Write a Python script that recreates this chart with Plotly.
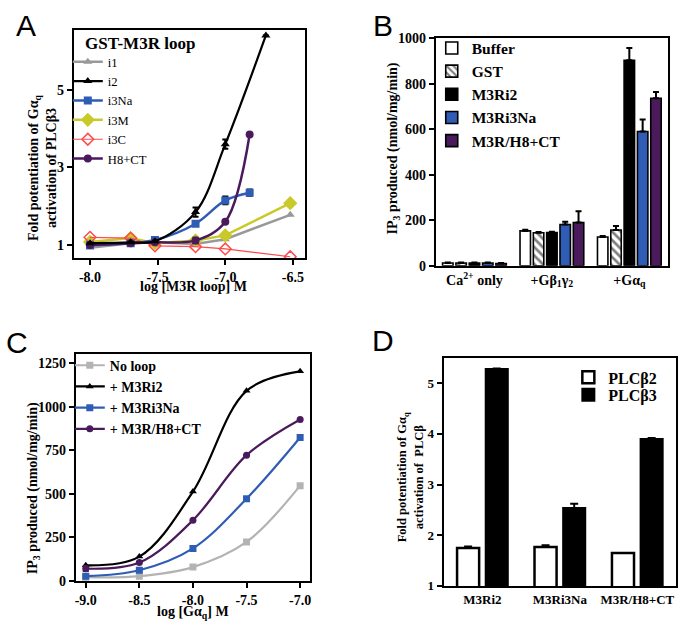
import plotly.graph_objects as go

W, H = 688, 631
SERIF = "Liberation Serif, Times New Roman, serif"
SANS = "Liberation Sans, Arial, sans-serif"

# ---------------- Panel A data ----------------
A_i1_x = [-8.0, -7.7, -7.52, -7.22, -7.0, -6.52]
A_i1_y = [0.93, 1.05, 1.07, 1.03, 1.15, 1.78]
A_i2_x = [-8.0, -7.7, -7.52, -7.22, -7.0, -6.7]
A_i2_y = [1.05, 1.07, 1.10, 1.85, 3.60, 6.40]
A_i2_err = [0, 0, 0, 0.12, 0.12, 0]
A_i3Na_x = [-8.0, -7.7, -7.52, -7.22, -7.0, -6.82]
A_i3Na_y = [1.00, 1.05, 1.13, 1.55, 2.15, 2.35]
A_i3Na_err = [0, 0, 0, 0.05, 0.10, 0.08]
A_i3M_x = [-8.0, -7.7, -7.52, -7.22, -7.0, -6.52]
A_i3M_y = [1.08, 1.18, 1.05, 1.12, 1.25, 2.08]
A_i3C_x = [-8.0, -7.7, -7.52, -7.22, -7.0, -6.52]
A_i3C_y = [1.20, 1.18, 0.98, 0.96, 0.90, 0.70]
A_H8_x = [-8.0, -7.7, -7.52, -7.22, -7.0, -6.82]
A_H8_y = [1.00, 1.05, 1.07, 1.12, 1.60, 3.85]
A_H8_err = [0, 0, 0, 0.07, 0, 0]
A_xticks = [-8.0, -7.5, -7.0, -6.5]
A_xticklabels = ["-8.0", "-7.5", "-7.0", "-6.5"]
A_yticks = [1, 3, 5]

# ---------------- Panel B data ----------------
B_categories = ["Ca<sup>2+</sup> only", "+Gβ<sub>1</sub>γ<sub>2</sub>", "+Gα<sub>q</sub>"]
B_buffer = [12, 153, 126]
B_buffer_err = [2, 5, 5]
B_gst = [12, 145, 157]
B_gst_err = [2, 3, 18]
B_m3ri2 = [12, 146, 903]
B_m3ri2_err = [2, 3, 54]
B_m3ri3na = [12, 181, 590]
B_m3ri3na_err = [2, 12, 53]
B_h8 = [10, 190, 736]
B_h8_err = [2, 49, 28]
B_yticks = [0, 200, 400, 600, 800, 1000]

# ---------------- Panel C data ----------------
C_x = [-9.0, -8.5, -8.0, -7.5, -7.0]
C_noloop = [22, 28, 80, 224, 547]
C_m3ri2 = [90, 140, 513, 1091, 1203]
C_m3ri3na = [28, 62, 187, 472, 823]
C_h8 = [71, 106, 349, 722, 927]
C_h8_err = [14, 0, 0, 0, 0]
C_xticks = [-9.0, -8.5, -8.0, -7.5, -7.0]
C_xticklabels = ["-9.0", "-8.5", "-8.0", "-7.5", "-7.0"]
C_yticks = [0, 250, 500, 750, 1000, 1250]

# ---------------- Panel D data ----------------
D_categories = ["M3Ri2", "M3Ri3Na", "M3R/H8+CT"]
D_plcb2 = [1.75, 1.77, 1.65]
D_plcb2_err = [0.03, 0.03, 0.0]
D_plcb3 = [5.28, 2.54, 3.90]
D_plcb3_err = [0.01, 0.08, 0.02]
D_yticks = [1, 2, 3, 4, 5]


def px(x):
    return x / W


def py(y):
    return 1 - y / H


BLUE = "#2f5cb5"
PURPLE = "#4a1a5c"
YELLOW = "#c9c92a"
GRAY = "#999999"
RED = "#ff4a4a"

fig = go.Figure()


def errA(arr):
    return dict(type="data", array=arr, visible=True, color="black", thickness=2, width=3)


# ---- Panel A traces ----
fig.add_trace(go.Scatter(x=A_i1_x, y=A_i1_y, name="i1", mode="lines+markers",
                         line=dict(color=GRAY, width=2.5),
                         marker=dict(symbol="triangle-up", size=8, color=GRAY),
                         xaxis="x", yaxis="y", legend="legend", legendrank=1))
fig.add_trace(go.Scatter(x=A_i3M_x, y=A_i3M_y, name="i3M", mode="lines+markers",
                         line=dict(color=YELLOW, width=2.5),
                         marker=dict(symbol="diamond", size=11, color=YELLOW),
                         xaxis="x", yaxis="y", legend="legend", legendrank=4))
fig.add_trace(go.Scatter(x=A_i3C_x, y=A_i3C_y, name="i3C", mode="lines+markers",
                         line=dict(color=RED, width=1.2),
                         marker=dict(symbol="diamond-open", size=9, color=RED, line=dict(width=1.5)),
                         xaxis="x", yaxis="y", legend="legend", legendrank=5))
fig.add_trace(go.Scatter(x=A_i3Na_x, y=A_i3Na_y, name="i3Na", mode="lines+markers",
                         line=dict(color=BLUE, width=2.5, shape="spline"),
                         marker=dict(symbol="square", size=8, color=BLUE),
                         error_y=errA(A_i3Na_err),
                         xaxis="x", yaxis="y", legend="legend", legendrank=3))
fig.add_trace(go.Scatter(x=A_H8_x, y=A_H8_y, name="H8+CT", mode="lines+markers",
                         line=dict(color=PURPLE, width=2.5, shape="spline"),
                         marker=dict(symbol="circle", size=8, color=PURPLE),
                         error_y=errA(A_H8_err),
                         xaxis="x", yaxis="y", legend="legend", legendrank=6))
fig.add_trace(go.Scatter(x=A_i2_x, y=A_i2_y, name="i2", mode="lines+markers",
                         line=dict(color="black", width=2.2, shape="spline"),
                         marker=dict(symbol="triangle-up", size=8, color="black"),
                         error_y=errA(A_i2_err),
                         xaxis="x", yaxis="y", legend="legend", legendrank=2))

# ---- Panel B traces ----
B_series = [
    ("Buffer", B_buffer, B_buffer_err, dict(color="white")),
    ("GST", B_gst, B_gst_err, dict(color="white", pattern=dict(shape="\\", fgcolor="black",
                                                               bgcolor="white", size=6, solidity=0.45))),
    ("M3Ri2", B_m3ri2, B_m3ri2_err, dict(color="black")),
    ("M3Ri3Na", B_m3ri3na, B_m3ri3na_err, dict(color=BLUE)),
    ("M3R/H8+CT", B_h8, B_h8_err, dict(color=PURPLE)),
]
B_pitch, B_width = 0.172, 0.135
for i, (name, vals, err, mk) in enumerate(B_series):
    mk = dict(mk)
    mk["line"] = dict(color="black", width=1.6)
    fig.add_trace(go.Bar(x=B_categories, y=vals, name=name, marker=mk,
                         width=B_width, offset=(i - 2) * B_pitch - B_width / 2,
                         error_y=dict(type="data", array=err, arrayminus=[0] * len(err),
                                      symmetric=False, color="black", thickness=2, width=3),
                         xaxis="x2", yaxis="y2", legend="legend2"))

# ---- Panel C traces ----
fig.add_trace(go.Scatter(x=C_x, y=C_noloop, name="No loop", mode="lines+markers",
                         line=dict(color="#b3b3b3", width=2.2, shape="spline"),
                         marker=dict(symbol="square", size=7, color="#b3b3b3"),
                         xaxis="x3", yaxis="y3", legend="legend3"))
fig.add_trace(go.Scatter(x=C_x, y=C_m3ri2, name="+ M3Ri2", mode="lines+markers",
                         line=dict(color="black", width=2.2, shape="spline"),
                         marker=dict(symbol="triangle-up", size=7, color="black"),
                         xaxis="x3", yaxis="y3", legend="legend3"))
fig.add_trace(go.Scatter(x=C_x, y=C_m3ri3na, name="+ M3Ri3Na", mode="lines+markers",
                         line=dict(color=BLUE, width=2.2, shape="spline"),
                         marker=dict(symbol="square", size=7, color=BLUE),
                         xaxis="x3", yaxis="y3", legend="legend3"))
fig.add_trace(go.Scatter(x=C_x, y=C_h8, name="+ M3R/H8+CT", mode="lines+markers",
                         line=dict(color=PURPLE, width=2.2, shape="spline"),
                         marker=dict(symbol="circle", size=7, color=PURPLE),
                         error_y=dict(type="data", array=C_h8_err, color=PURPLE, thickness=2, width=3),
                         xaxis="x3", yaxis="y3", legend="legend3"))

# ---- Panel D traces ----
D_pitch, D_width = 0.37, 0.285
fig.add_trace(go.Bar(x=D_categories, y=D_plcb2, name="PLCβ2",
                     marker=dict(color="white", line=dict(color="black", width=2.5)),
                     width=D_width, offset=-D_pitch / 2 - D_width / 2,
                     error_y=dict(type="data", array=D_plcb2_err, arrayminus=[0] * 3, symmetric=False,
                                  color="black", thickness=2, width=4),
                     xaxis="x4", yaxis="y4", legend="legend4"))
fig.add_trace(go.Bar(x=D_categories, y=D_plcb3, name="PLCβ3",
                     marker=dict(color="black", line=dict(color="black", width=2)),
                     width=D_width, offset=D_pitch / 2 - D_width / 2,
                     error_y=dict(type="data", array=D_plcb3_err, arrayminus=[0] * 3, symmetric=False,
                                  color="black", thickness=2, width=4),
                     xaxis="x4", yaxis="y4", legend="legend5"))

# ---- Axes ----
tickfont = dict(family=SERIF, size=14, color="black", weight="bold")
tickfont_d = dict(family=SERIF, size=13, color="black", weight="bold")
common = dict(showline=True, linecolor="black", linewidth=2, mirror=True, ticks="outside",
              ticklen=5, tickwidth=2, tickcolor="black", showgrid=False, zeroline=False,
              tickfont=tickfont, fixedrange=True)

layout = dict(
    width=W, height=H, margin=dict(l=0, r=0, t=0, b=0, pad=0),
    font=dict(family=SERIF, color="black"),
    paper_bgcolor="white", plot_bgcolor="white", barmode="overlay", showlegend=True,
    xaxis=dict(domain=[px(73), px(305)], range=[-8.12, -6.41], tickvals=A_xticks,
               ticktext=A_xticklabels, anchor="y", **common),
    yaxis=dict(domain=[py(257), py(24)], range=[0.67, 6.53], tickvals=A_yticks, anchor="x", **common),
    xaxis2=dict(domain=[px(436), px(669)], range=[-0.5, 2.5], anchor="y2",
                **{**common, "ticks": ""}),
    yaxis2=dict(domain=[py(265), py(32)], range=[0, 1000], tickvals=B_yticks, anchor="x2", **common),
    xaxis3=dict(domain=[px(75), px(310)], range=[-9.093, -6.907], tickvals=C_xticks,
                ticktext=C_xticklabels, anchor="y3", **common),
    yaxis3=dict(domain=[py(588), py(355)], range=[0, 1305], tickvals=C_yticks, anchor="x3", **common),
    xaxis4=dict(domain=[px(444), px(677)], range=[-0.5, 2.5], anchor="y4",
                **{**common, "ticks": "", "tickfont": tickfont_d}),
    yaxis4=dict(domain=[py(593), py(360)], range=[1, 5.49], tickvals=D_yticks, anchor="x4",
                **{**common, "tickfont": tickfont_d}),
    legend=dict(x=px(67), y=py(41), xanchor="left", yanchor="top", bgcolor="rgba(0,0,0,0)",
                font=dict(family=SERIF, size=12.6, color="black"), itemwidth=30,
                traceorder="normal"),
    legend2=dict(x=px(432), y=py(25), xanchor="left", yanchor="top", bgcolor="rgba(0,0,0,0)",
                 font=dict(family=SERIF, size=15.5, color="black", weight="bold"), itemwidth=30),
    legend3=dict(x=px(69), y=py(351), xanchor="left", yanchor="top", bgcolor="rgba(0,0,0,0)",
                 font=dict(family=SERIF, size=14, color="black", weight="bold"), itemwidth=30),
    legend4=dict(x=px(569), y=py(362), xanchor="left", yanchor="top", bgcolor="rgba(0,0,0,0)",
                 font=dict(family=SERIF, size=16, color="black", weight="bold"), itemwidth=30),
    legend5=dict(x=px(569), y=py(380), xanchor="left", yanchor="top", bgcolor="rgba(0,0,0,0)",
                 font=dict(family=SERIF, size=16, color="black", weight="bold"), itemwidth=30),
)
fig.update_layout(**layout)

letters = [
    dict(text="A", x=px(25), y=py(0)),
    dict(text="B", x=px(383), y=py(0)),
    dict(text="C", x=px(16), y=py(325)),
    dict(text="D", x=px(383), y=py(323)),
]
for a in letters:
    a.update(xref="paper", yref="paper", showarrow=False, xanchor="center", yanchor="top",
             font=dict(family=SANS, size=30, color="black"))
    fig.add_annotation(**a)

texts = [
    dict(text="GST-M3R loop", x=px(82), y=py(37), xanchor="left", size=17),
    dict(text="Fold potentiation of Gα<sub>q</sub><br>activation of PLCβ3", x=px(41), y=py(165), textangle=-90),
    dict(text="log [M3R loop] M", x=px(193), y=py(286)),
    dict(text="IP<sub>3</sub> produced (nmol/mg/min)", x=px(394), y=py(145), textangle=-90),
    dict(text="IP<sub>3</sub> produced (nmol/mg/min)", x=px(32), y=py(493), textangle=-90),
    dict(text="log [Gα<sub>q</sub>] M", x=px(193), y=py(631), yanchor="bottom"),
    dict(text="Fold potentiation of Gα<sub>q</sub><br>activation of  PLCβ", x=px(410), y=py(482),
         textangle=-90, size=12.5),
]
for a in texts:
    size = a.pop("size", 14)
    a.setdefault("xanchor", "center")
    a.setdefault("yanchor", "middle")
    a.update(xref="paper", yref="paper", showarrow=False,
             font=dict(family=SERIF, size=size, color="black", weight="bold"))
    fig.add_annotation(**a)

fig.write_html("out.html", config={"displayModeBar": False},
               post_script="document.body.style.margin='0px';document.body.style.padding='0px';")
